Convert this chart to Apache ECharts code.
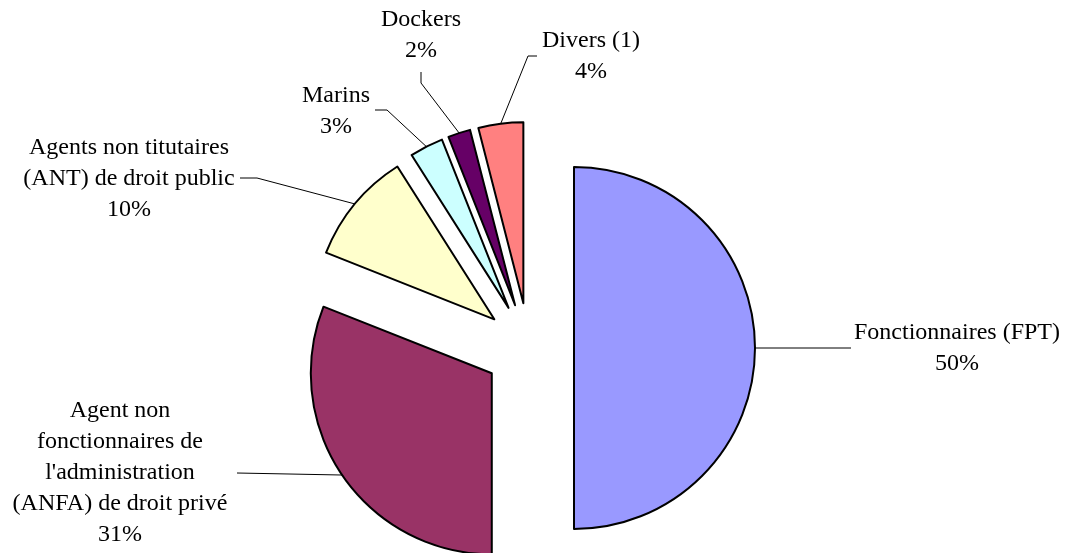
<!DOCTYPE html>
<html>
<head>
<meta charset="utf-8">
<script src="https://cdn.jsdelivr.net/npm/echarts@6/dist/echarts.min.js"></script>
<style>
html,body{margin:0;padding:0;background:#ffffff;}
#chart{width:1071px;height:553px;}
</style>
</head>
<body>
<div id="chart"></div>
<script>
// ---- data ----
const categories = [
  "Fonctionnaires (FPT)",
  "Agent non\nfonctionnaires de\nl'administration\n(ANFA) de droit privé",
  "Agents non titutaires\n(ANT) de droit public",
  "Marins",
  "Dockers",
  "Divers (1)"
];
const shares = [50, 31, 10, 3, 2, 4];

// ---- styles / layout ----
const sliceColors = ['#9999FF', '#993366', '#FFFFCC', '#CCFFFF', '#660066', '#FF8080'];
const pieCenter = [529, 348];
const pieRadius = 181;
const explodeDistance = 45;
const labelCenters = [[957, 348], [120, 473], [129, 179], [336, 111], [421, 35], [591, 56]];
const guideEnds = [
  [[851, 348]],
  [[237, 473]],
  [[257, 178], [240, 178]],
  [[387, 110], [375, 110]],
  [[421, 83], [421, 72]],
  [[528, 56], [537, 56]]
];

const total = shares.reduce((a, b) => a + b, 0);
let cum = 0;
const series = shares.map((v, k) => {
  const mid = (cum + v / 2) / total * Math.PI * 2;
  cum += v;
  const center = [
    pieCenter[0] + explodeDistance * Math.sin(mid),
    pieCenter[1] - explodeDistance * Math.cos(mid)
  ];
  return {
    type: 'pie',
    center: center,
    radius: pieRadius,
    startAngle: 90,
    clockwise: true,
    avoidLabelOverlap: false,
    silent: true,
    animation: false,
    emphasis: { disabled: true },
    data: categories.map((name, i) => ({
      name: name,
      value: shares[i],
      itemStyle: i === k
        ? { color: sliceColors[i], borderColor: '#000000', borderWidth: 2 }
        : { color: 'rgba(0,0,0,0)', borderColor: 'rgba(0,0,0,0)', borderWidth: 0 },
      label: { show: i === k },
      labelLine: { show: i === k }
    })),
    label: {
      position: 'outside',
      formatter: p => p.name + '\n' + Math.round(p.percent) + '%',
      fontFamily: 'Liberation Serif',
      fontSize: 24,
      lineHeight: 31,
      color: '#000000',
      align: 'center'
    },
    labelLine: {
      show: true,
      lineStyle: { color: '#000000', width: 1 }
    },
    labelLayout: function (params) {
      if (params.dataIndex !== k) return {};
      const out = {
        x: labelCenters[k][0],
        y: labelCenters[k][1],
        align: 'center',
        verticalAlign: 'middle'
      };
      if (params.labelLinePoints && params.labelLinePoints.length) {
        out.labelLinePoints = [params.labelLinePoints[0]].concat(guideEnds[k]);
      }
      return out;
    }
  };
});

const chart = echarts.init(document.getElementById('chart'), null, { renderer: 'canvas' });
chart.setOption({
  backgroundColor: '#ffffff',
  animation: false,
  series: series
});
</script>
</body>
</html>
